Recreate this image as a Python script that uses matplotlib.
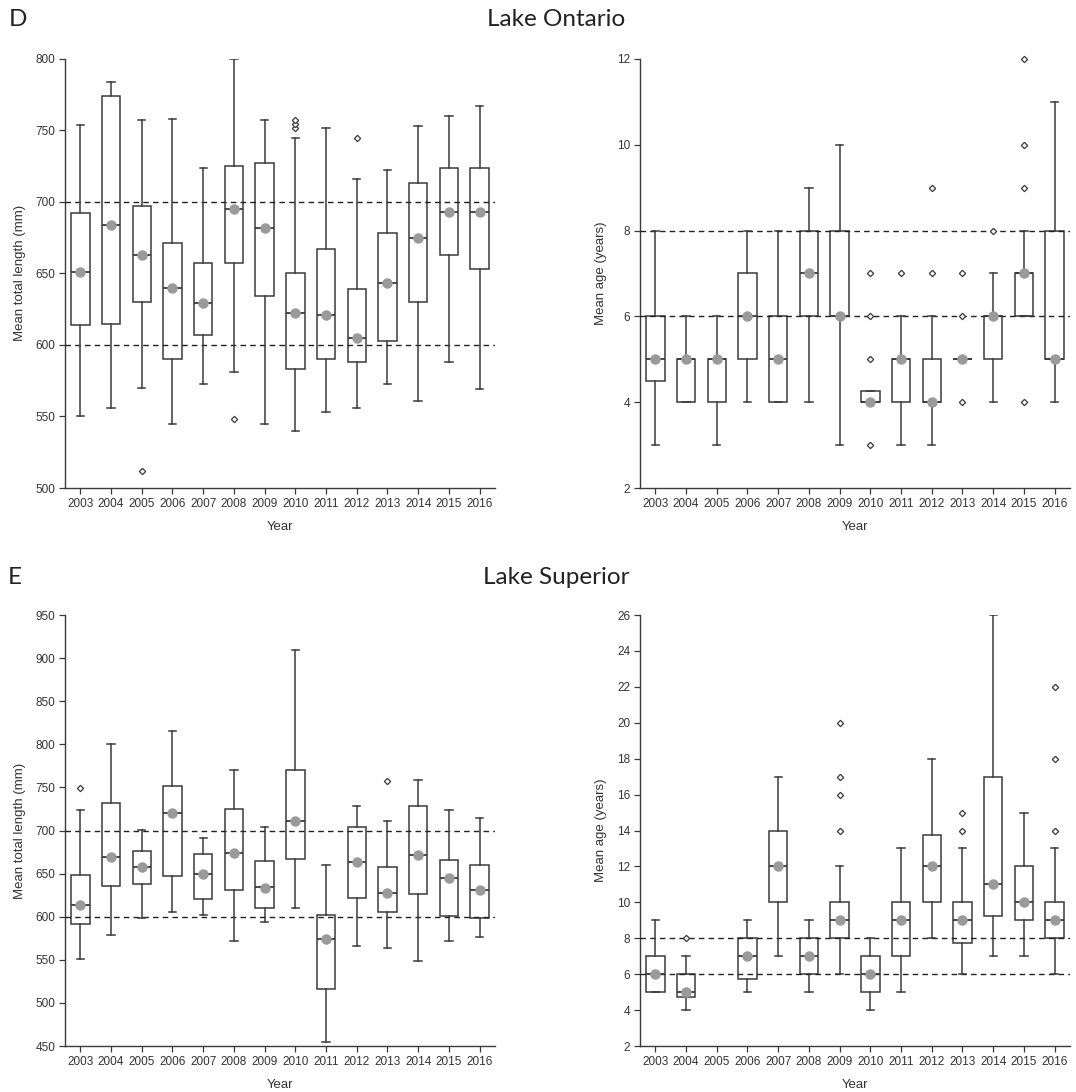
import matplotlib
matplotlib.use("Agg")
import matplotlib.pyplot as plt

plt.rcParams['font.family'] = ['Liberation Sans', 'DejaVu Sans']

years = ['2003', '2004', '2005', '2006', '2007', '2008', '2009',
         '2010', '2011', '2012', '2013', '2014', '2015', '2016']

# ---------------- Lake Ontario: mean total length (mm) ----------------
ont_len_lo   = [550, 556, 570, 545, 573, 581, 545, 540, 553, 556, 573, 561, 588, 569]
ont_len_q1   = [614, 615, 630, 590, 607, 657, 634, 583, 590, 588, 603, 630, 663, 653]
ont_len_med  = [651, 684, 663, 640, 629, 695, 682, 622, 621, 605, 643, 675, 693, 693]
ont_len_q3   = [692, 774, 697, 671, 657, 725, 727, 650, 667, 639, 678, 713, 724, 724]
ont_len_hi   = [754, 784, 757, 758, 724, 800, 757, 745, 752, 716, 722, 753, 760, 767]
ont_len_mean = [651, 684, 663, 640, 629, 695, 682, 622, 621, 605, 643, 675, 693, 693]
ont_len_out  = [[], [], [512], [], [], [548], [], [752, 754.5, 757], [], [745], [], [], [], []]

# ---------------- Lake Ontario: mean age (years) ----------------
ont_age_lo   = [3, 4, 3, 4, 4, 4, 3, 4, 3, 3, 5, 4, 6, 4]
ont_age_q1   = [4.5, 4, 4, 5, 4, 6, 6, 4, 4, 4, 5, 5, 6, 5]
ont_age_med  = [5, 5, 5, 6, 5, 7, 6, 4, 5, 4, 5, 6, 7, 5]
ont_age_q3   = [6, 5, 5, 7, 6, 8, 8, 4.25, 5, 5, 5, 6, 7, 8]
ont_age_hi   = [8, 6, 6, 8, 8, 9, 10, 4.25, 6, 6, 5, 7, 8, 11]
ont_age_mean = [5, 5, 5, 6, 5, 7, 6, 4, 5, 4, 5, 6, 7, 5]
ont_age_out  = [[], [], [], [], [], [], [], [3, 5, 6, 7], [7], [7, 9], [4, 6, 7], [8],
                [4, 9, 10, 12], []]

# ---------------- Lake Superior: mean total length (mm) ----------------
sup_len_lo   = [551, 579, 599, 605, 602, 572, 594, 610, 455, 566, 564, 549, 572, 577]
sup_len_q1   = [591, 636, 638, 647, 620, 631, 610, 667, 516, 622, 606, 626, 601, 598]
sup_len_med  = [614, 669, 658, 720, 650, 674, 634, 711, 574, 663, 627, 672, 645, 631]
sup_len_q3   = [648, 732, 676, 752, 673, 725, 665, 770, 602, 704, 658, 728, 666, 660]
sup_len_hi   = [724, 800, 701, 815, 691, 770, 704, 909, 660, 729, 711, 759, 724, 714]
sup_len_mean = [614, 669, 658, 720, 650, 674, 633, 711, 574, 663, 627, 672, 645, 631]
sup_len_out  = [[749], [], [], [], [], [], [], [], [], [], [757], [], [], []]

# ---------------- Lake Superior: mean age (years); no 2005 data ----------------
sup_age_lo   = [5, 4, None, 5, 7, 5, 6, 4, 5, 8, 6, 7, 7, 6]
sup_age_q1   = [5, 4.75, None, 5.75, 10, 6, 8, 5, 7, 10, 7.75, 9.25, 9, 8]
sup_age_med  = [6, 5, None, 7, 12, 7, 9, 6, 9, 12, 9, 11, 10, 9]
sup_age_q3   = [7, 6, None, 8, 14, 8, 10, 7, 10, 13.75, 10, 17, 12, 10]
sup_age_hi   = [9, 7, None, 9, 17, 9, 12, 8, 13, 18, 13, 26, 15, 13]
sup_age_mean = [6, 5, None, 7, 12, 7, 9, 6, 9, 12, 9, 11, 10, 9]
sup_age_out  = [[], [8], [], [], [], [], [14, 16, 17, 20], [], [], [], [14, 15], [],
                [], [14, 18, 22]]

EDGE = '#3a3a3a'
MEANC = '#9a9a9a'


def panel(ax, lo, q1, med, q3, hi, mean, out, ylim, yticks, ylabel, hlines):
    stats, pos = [], []
    for i in range(len(years)):
        if med[i] is None:
            continue
        stats.append(dict(whislo=lo[i], q1=q1[i], med=med[i], q3=q3[i], whishi=hi[i],
                          mean=mean[i], fliers=out[i], label=years[i]))
        pos.append(i)
    for h in hlines:
        ax.axhline(h, color='#222222', lw=1.0, ls=(0, (4, 3)), zorder=1)
    res = ax.bxp(stats, positions=pos, widths=0.6, capwidths=0.24, showmeans=True,
                 patch_artist=True, manage_ticks=False,
                 boxprops=dict(facecolor='white', edgecolor=EDGE, linewidth=1.1),
                 whiskerprops=dict(color=EDGE, linewidth=1.1),
                 capprops=dict(color=EDGE, linewidth=1.1),
                 medianprops=dict(color=EDGE, linewidth=1.3),
                 meanprops=dict(marker='o', markerfacecolor=MEANC, markeredgecolor=MEANC,
                                markersize=6.5),
                 flierprops=dict(marker='D', markerfacecolor='white', markeredgecolor=EDGE,
                                 markersize=3.2, markeredgewidth=0.9))
    for ln in ax.lines:
        ln.set_zorder(3)
    for f in res['fliers']:
        f.set_clip_on(False)
    for m in res['means']:
        m.set_zorder(4)
    ax.set_xlim(-0.5, 13.5)
    ax.set_ylim(*ylim)
    ax.set_yticks(yticks)
    ax.set_xticks(range(len(years)))
    ax.set_xticklabels(years)
    ax.spines['top'].set_visible(False)
    ax.spines['right'].set_visible(False)
    for s in ('left', 'bottom'):
        ax.spines[s].set_color(EDGE)
        ax.spines[s].set_linewidth(1.0)
    ax.tick_params(axis='both', direction='out', length=4, width=0.9, color=EDGE,
                   labelsize=8.5, labelcolor='#333333', pad=3)
    ax.set_xlabel('Year', fontsize=9.5, color='#333333', labelpad=8)
    ax.set_ylabel(ylabel, fontsize=9.5, color='#333333', labelpad=7)


fig = plt.figure(figsize=(10.76, 10.92), dpi=100)
W = 0.3996
ax1 = fig.add_axes([0.0604, 0.5531, W, 0.393])
ax2 = fig.add_axes([0.5948, 0.5531, W, 0.393])
ax3 = fig.add_axes([0.0604, 0.0421, W, 0.3947])
ax4 = fig.add_axes([0.5948, 0.0421, W, 0.3947])

panel(ax1, ont_len_lo, ont_len_q1, ont_len_med, ont_len_q3, ont_len_hi, ont_len_mean,
      ont_len_out, (500, 800), range(500, 801, 50), 'Mean total length (mm)', [600, 700])
panel(ax2, ont_age_lo, ont_age_q1, ont_age_med, ont_age_q3, ont_age_hi, ont_age_mean,
      ont_age_out, (2, 12), range(2, 13, 2), 'Mean age (years)', [6, 8])
panel(ax3, sup_len_lo, sup_len_q1, sup_len_med, sup_len_q3, sup_len_hi, sup_len_mean,
      sup_len_out, (450, 950), range(450, 951, 50), 'Mean total length (mm)', [600, 700])
panel(ax4, sup_age_lo, sup_age_q1, sup_age_med, sup_age_q3, sup_age_hi, sup_age_mean,
      sup_age_out, (2, 26), range(2, 27, 2), 'Mean age (years)', [6, 8])

tfont = dict(family=['Lato', 'DejaVu Sans'], fontsize=17.5, color='#222222', va='center')
fig.text(0.008, 1 - 19 / 1092, 'D', ha='left', **tfont)
fig.text(0.517, 1 - 19 / 1092, 'Lake Ontario', ha='center', **tfont)
fig.text(0.007, 1 - 577 / 1092, 'E', ha='left', **tfont)
fig.text(0.517, 1 - 577 / 1092, 'Lake Superior', ha='center', **tfont)

fig.savefig('out.png', dpi=100, facecolor='white')
